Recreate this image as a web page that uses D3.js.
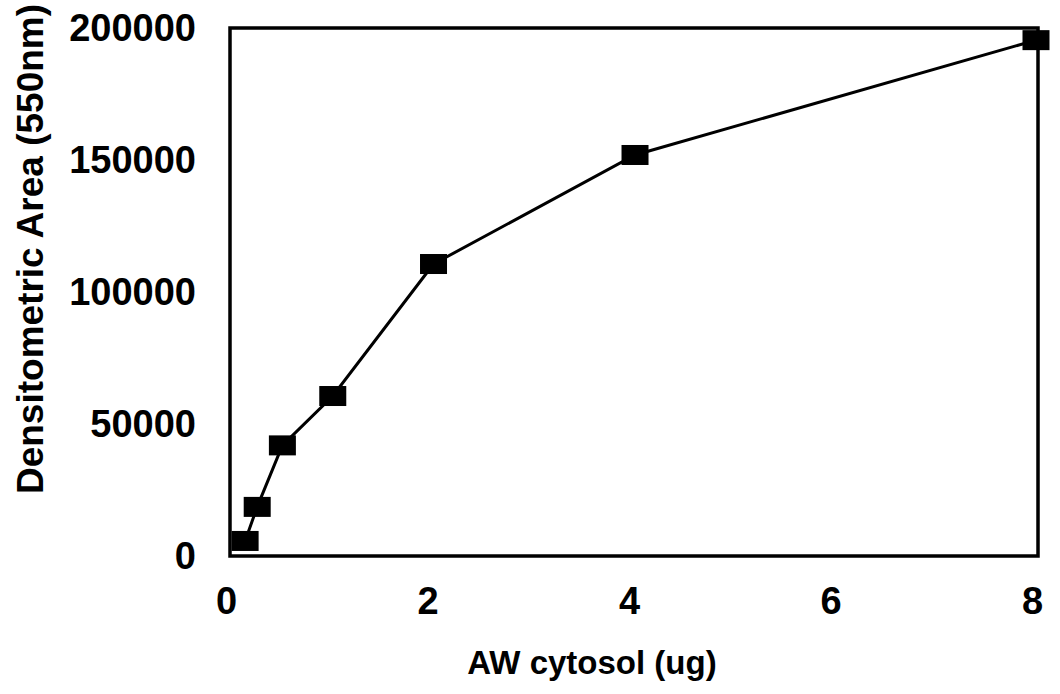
<!DOCTYPE html>
<html>
<head>
<meta charset="utf-8">
<script src="https://cdn.jsdelivr.net/npm/d3@7"></script>
<style>
    body { margin: 0; background: #fff; }
    text { font-family: "Liberation Sans", Arial, sans-serif; font-weight: bold; fill: #000; }
</style>
</head>
<body>
<svg id="chart" width="1060" height="694"></svg>
<script>
"use strict";

// Values.
const cytosolUg = [0.15, 0.27, 0.52, 1.02, 2.02, 4.02, 8];
const densArea = [5700, 18600, 41900, 60600, 110600, 151900, 195400];
const xTicks = [0, 2, 4, 6, 8];
const yTicks = [0, 50000, 100000, 150000, 200000];

const MARKER_W = 27;
const MARKER_H = 20;

const svg = d3.select("#chart");

const x = d3.scaleLinear().domain([0, 8]).range([230, 1036]);
const y = d3.scaleLinear().domain([0, 200000]).range([556, 28]);

// Plot frame.
svg.append("rect")
    .attr("x", x(0))
    .attr("y", y(200000))
    .attr("width", x(8) - x(0) + 2)
    .attr("height", y(0) - y(200000))
    .attr("fill", "none")
    .attr("stroke", "#000")
    .attr("stroke-width", 3.5);

// Axes without tick marks, only labels.
const xAxis = svg.append("g")
    .attr("transform", "translate(0," + y(0) + ")")
    .call(d3.axisBottom(x).tickValues(xTicks).tickSize(0).tickPadding(31));
const yAxis = svg.append("g")
    .attr("transform", "translate(" + x(0) + ",0)")
    .call(d3.axisLeft(y).tickValues(yTicks).tickSize(0).tickPadding(34).tickFormat(d3.format("d")));

[xAxis, yAxis].forEach(function (axis) {
    axis.select(".domain").remove();
    axis.selectAll(".tick text")
        .attr("font-family", null)
        .style("font-size", "38px");
});
xAxis.selectAll(".tick text").attr("dx", -4);

// Axis titles.
svg.append("text")
    .attr("x", 592)
    .attr("y", 674)
    .attr("text-anchor", "middle")
    .style("font-size", "33px")
    .text("AW cytosol (ug)");
svg.append("text")
    .attr("transform", "translate(43,249) rotate(-90)")
    .attr("text-anchor", "middle")
    .style("font-size", "37px")
    .text("Densitometric Area (550nm)");

// Data line and markers.
const points = cytosolUg.map(function (v, i) {
    return [v, densArea[i]];
});
svg.append("path")
    .datum(points)
    .attr("fill", "none")
    .attr("stroke", "#000")
    .attr("stroke-width", 3)
    .attr("d", d3.line()
        .x(function (d) { return x(d[0]); })
        .y(function (d) { return y(d[1]); }));

svg.selectAll(".marker")
    .data(points)
    .enter().append("rect")
    .attr("class", "marker")
    .attr("x", function (d) { return x(d[0]) - MARKER_W / 2; })
    .attr("y", function (d) { return y(d[1]) - MARKER_H / 2; })
    .attr("width", MARKER_W)
    .attr("height", MARKER_H)
    .attr("fill", "#000");
</script>
</body>
</html>
